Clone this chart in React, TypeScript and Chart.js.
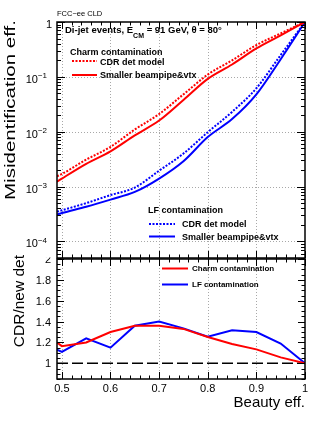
import React, { useEffect, useRef } from 'react';
import { Chart, registerables } from 'chart.js';

Chart.register(...registerables);

// ---------------- data ----------------
const effX = [0.49, 0.5, 0.55, 0.6, 0.65, 0.7, 0.75, 0.8, 0.85, 0.9, 0.95, 1.0];
const charmCDR = [1.55e-3, 1.7e-3, 3.1e-3, 5.3e-3, 1.1e-2, 2.1e-2, 4.8e-2, 0.11, 0.2, 0.38, 0.62, 1.0];
const charmNew = [1.23e-3, 1.4e-3, 2.6e-3, 4.4e-3, 8.6e-3, 1.6e-2, 3.8e-2, 0.092, 0.168, 0.33, 0.57, 1.0];
const lfCDR = [3.5e-4, 3.7e-4, 5.0e-4, 7.0e-4, 9.6e-4, 1.95e-3, 4.0e-3, 9.8e-3, 2.3e-2, 6.2e-2, 0.25, 1.0];
const lfNew = [3.1e-4, 3.3e-4, 4.3e-4, 5.8e-4, 8.0e-4, 1.4e-3, 2.9e-3, 8.0e-3, 1.7e-2, 4.8e-2, 0.21, 1.0];

const ratioX = [0.49, 0.5, 0.55, 0.6, 0.65, 0.7, 0.75, 0.8, 0.85, 0.9, 0.95, 1.0];
const charmRatio = [1.2, 1.165, 1.2, 1.3, 1.36, 1.36, 1.33, 1.252, 1.186, 1.134, 1.057, 1.0];
const lfRatio = [1.13, 1.11, 1.24, 1.15, 1.36, 1.4, 1.335, 1.255, 1.316, 1.3, 1.19, 1.0];
const unityX = [0.49, 1.0];
const unityY = [1, 1];

const xMajorTicks = [0.5, 0.6, 0.7, 0.8, 0.9, 1.0];
const xTickLabels = ['0.5', '0.6', '0.7', '0.8', '0.9', '1'];
const topDecades = [1, 1e-1, 1e-2, 1e-3, 1e-4];
const topDecadeExp = [0, -1, -2, -3, -4];
const ratioMajorTicks = [1, 1.2, 1.4, 1.6, 1.8, 2];
const ratioTickLabels = ['1', '1.2', '1.4', '1.6', '1.8', '2'];

const X_MIN = 0.49;
const X_MAX = 1.0;
const TOP_Y_MIN = 5e-5;
const TOP_Y_MAX = 1;
const BOT_Y_MIN = 0.85;
const BOT_Y_MAX = 2;

// ---------------- style ----------------
const FONT = '"Liberation Sans", Arial, Helvetica, sans-serif';
const RED = '#ff0000';
const BLUE = '#0000ff';
const DOT = [2, 1.5];
const GRID = '#a8a8a8';
const BOT_OFFSET = 250;

const f = (size: number, bold = false) => `${bold ? 'bold ' : ''}${size}px ${FONT}`;
const pts = (xs: number[], ys: number[]) => xs.map((x, i) => ({ x, y: ys[i] }));

function txt(ctx: CanvasRenderingContext2D, s: string, x: number, y: number, font: string, align: CanvasTextAlign = 'left') {
  ctx.font = font;
  ctx.textAlign = align;
  ctx.textBaseline = 'alphabetic';
  ctx.fillStyle = '#000';
  ctx.fillText(s, x, y);
}

function legendLine(ctx: CanvasRenderingContext2D, x1: number, x2: number, y: number, color: string, dash: number[]) {
  ctx.save();
  ctx.strokeStyle = color;
  ctx.lineWidth = 2;
  ctx.setLineDash(dash);
  ctx.beginPath();
  ctx.moveTo(x1, y);
  ctx.lineTo(x2, y);
  ctx.stroke();
  ctx.restore();
}

function drawGrid(chart: any, xs: number[], ys: number[]) {
  const ctx = chart.ctx as CanvasRenderingContext2D;
  const { left, right, top, bottom } = chart.chartArea;
  ctx.save();
  ctx.strokeStyle = GRID;
  ctx.lineWidth = 1;
  ctx.setLineDash([1, 2]);
  ctx.beginPath();
  xs.forEach((v) => {
    const px = Math.round(chart.scales.x.getPixelForValue(v)) + 0.5;
    ctx.moveTo(px, top);
    ctx.lineTo(px, bottom);
  });
  ys.forEach((v) => {
    const py = Math.round(chart.scales.y.getPixelForValue(v)) + 0.5;
    ctx.moveTo(left, py);
    ctx.lineTo(right, py);
  });
  ctx.stroke();
  ctx.restore();
}

function drawFrameTicks(chart: any, yTickVals: { v: number; major: boolean }[], xMaj: number, xMin: number, yMaj: number, yMin: number) {
  const ctx = chart.ctx as CanvasRenderingContext2D;
  const { left, right, top, bottom } = chart.chartArea;
  ctx.save();
  ctx.strokeStyle = '#000';
  ctx.lineWidth = 1;
  ctx.setLineDash([]);
  ctx.beginPath();
  for (let k = Math.ceil(X_MIN * 50); k <= Math.floor(X_MAX * 50); k++) {
    const v = k / 50;
    const len = k % 5 === 0 ? xMaj : xMin;
    const px = Math.round(chart.scales.x.getPixelForValue(v)) + 0.5;
    ctx.moveTo(px, bottom);
    ctx.lineTo(px, bottom - len);
    ctx.moveTo(px, top);
    ctx.lineTo(px, top + len);
  }
  yTickVals.forEach(({ v, major }) => {
    const len = major ? yMaj : yMin;
    const py = Math.round(chart.scales.y.getPixelForValue(v)) + 0.5;
    ctx.moveTo(left, py);
    ctx.lineTo(left + len, py);
    ctx.moveTo(right, py);
    ctx.lineTo(right - len, py);
  });
  ctx.stroke();
  ctx.lineWidth = 1.5;
  ctx.strokeRect(left, top, right - left, bottom - top);
  ctx.restore();
}

const topPlugin = {
  id: 'topDecor',
  beforeDatasetsDraw(chart: any) {
    drawGrid(chart, xMajorTicks.filter((v) => v < X_MAX), topDecades.filter((v) => v < TOP_Y_MAX));
  },
  afterDatasetsDraw(chart: any) {
    const ctx = chart.ctx as CanvasRenderingContext2D;
    const yt: { v: number; major: boolean }[] = [];
    for (let d = -5; d <= 0; d++) {
      for (let m = 1; m <= 9; m++) {
        const v = m * Math.pow(10, d);
        if (v >= TOP_Y_MIN * 0.999 && v <= TOP_Y_MAX * 1.001) yt.push({ v, major: m === 1 });
      }
    }
    drawFrameTicks(chart, yt, 7, 3.5, 8, 4);

    topDecades.forEach((v, i) => {
      const y = chart.scales.y.getPixelForValue(v);
      const e = topDecadeExp[i];
      if (e === 0) {
        txt(ctx, '1', 46, y + 5.5, f(11));
      } else {
        ctx.font = f(8);
        const sup = '\u2212' + String(-e);
        const sw = ctx.measureText(sup).width;
        txt(ctx, '10', 47 - sw, y + 6, f(11), 'right');
        txt(ctx, sup, 47 - sw, y + 1.5, f(8), 'left');
      }
    });

    ctx.save();
    ctx.translate(15, 20);
    ctx.rotate(-Math.PI / 2);
    ctx.font = f(14);
    const title = 'Misidentification eff.';
    const w = ctx.measureText(title).width;
    ctx.scale(180 / w, 1);
    ctx.textAlign = 'right';
    ctx.textBaseline = 'alphabetic';
    ctx.fillStyle = '#000';
    ctx.fillText(title, 0, 0);
    ctx.restore();

    txt(ctx, 'FCC\u2212ee CLD', 57, 16, f(7.5));

    let x = 65;
    txt(ctx, 'Di-jet events, E', x, 33.3, f(9.5, true));
    ctx.font = f(9.5, true);
    x += ctx.measureText('Di-jet events, E').width;
    txt(ctx, 'CM', x, 37.5, f(7, true));
    ctx.font = f(7, true);
    x += ctx.measureText('CM').width;
    txt(ctx, ' = 91 GeV, \u03b8 = 80\u00b0', x, 33.3, f(9.5, true));

    txt(ctx, 'Charm contamination', 70, 54.5, f(9, true));
    legendLine(ctx, 72, 97, 61, RED, DOT);
    txt(ctx, 'CDR det model', 100, 64.5, f(9, true));
    legendLine(ctx, 72, 97, 75, RED, []);
    txt(ctx, 'Smaller beampipe&vtx', 100, 78.3, f(9, true));

    txt(ctx, 'LF contamination', 148, 213.3, f(9, true));
    legendLine(ctx, 149, 175, 224, BLUE, DOT);
    txt(ctx, 'CDR det model', 182, 226.5, f(9, true));
    legendLine(ctx, 149, 175, 236.5, BLUE, []);
    txt(ctx, 'Smaller beampipe&vtx', 182, 239.8, f(9, true));
  },
};

const botPlugin = {
  id: 'botDecor',
  beforeDatasetsDraw(chart: any) {
    drawGrid(chart, xMajorTicks.filter((v) => v < X_MAX), []);
  },
  afterDatasetsDraw(chart: any) {
    const ctx = chart.ctx as CanvasRenderingContext2D;
    const yt: { v: number; major: boolean }[] = [];
    for (let k = Math.ceil(BOT_Y_MIN * 20); k <= Math.floor(BOT_Y_MAX * 20); k++) {
      yt.push({ v: k / 20, major: k % 4 === 0 });
    }
    drawFrameTicks(chart, yt, 7, 3.5, 7, 3.5);

    const { top, bottom } = chart.chartArea;
    ctx.save();
    ctx.beginPath();
    ctx.rect(0, top - 1.5, 60, 400);
    ctx.clip();
    ratioMajorTicks.forEach((v, i) => {
      const y = chart.scales.y.getPixelForValue(v);
      txt(ctx, ratioTickLabels[i], 51, y + 4, f(11), 'right');
    });
    ctx.restore();

    xMajorTicks.forEach((v, i) => {
      const x = chart.scales.x.getPixelForValue(v);
      txt(ctx, xTickLabels[i], x, bottom + 13, f(11), 'center');
    });

    ctx.save();
    ctx.translate(0, -BOT_OFFSET);
    txt(ctx, 'Beauty eff.', 305, 407, f(15), 'right');

    ctx.save();
    ctx.translate(24, 255);
    ctx.rotate(-Math.PI / 2);
    ctx.font = f(15.5);
    ctx.textAlign = 'right';
    ctx.textBaseline = 'alphabetic';
    ctx.fillStyle = '#000';
    ctx.fillText('CDR/new det', 0, 0);
    ctx.restore();

    legendLine(ctx, 162, 188, 268.5, RED, []);
    txt(ctx, 'Charm contamination', 192, 271.3, f(8, true));
    legendLine(ctx, 162, 188, 284.5, BLUE, []);
    txt(ctx, 'LF contamination', 192, 287.3, f(8, true));
    ctx.restore();
  },
};

const lineDs = (data: any, color: string, dash: number[], smooth: boolean) => ({
  data,
  borderColor: color,
  backgroundColor: color,
  borderWidth: 2,
  borderDash: dash,
  pointRadius: 0,
  fill: false,
  tension: 0,
  cubicInterpolationMode: smooth ? 'monotone' : 'default',
});

export default function App() {
  const topRef = useRef<HTMLCanvasElement>(null);
  const botRef = useRef<HTMLCanvasElement>(null);

  useEffect(() => {
    const topChart = new Chart(topRef.current as HTMLCanvasElement, {
      type: 'line',
      data: {
        datasets: [
          lineDs(pts(effX, charmCDR), RED, DOT, true),
          lineDs(pts(effX, charmNew), RED, [], true),
          lineDs(pts(effX, lfCDR), BLUE, DOT, true),
          lineDs(pts(effX, lfNew), BLUE, [], true),
        ] as any,
      },
      options: {
        responsive: false,
        animation: false,
        devicePixelRatio: 1,
        events: [],
        layout: { padding: { left: 57, right: 27, top: 22, bottom: 1 } },
        plugins: { legend: { display: false }, tooltip: { enabled: false } },
        scales: {
          x: { type: 'linear', min: X_MIN, max: X_MAX, display: false },
          y: { type: 'logarithmic', min: TOP_Y_MIN, max: TOP_Y_MAX, display: false },
        },
      } as any,
      plugins: [topPlugin],
    });

    const botChart = new Chart(botRef.current as HTMLCanvasElement, {
      type: 'line',
      data: {
        datasets: [
          lineDs(pts(ratioX, charmRatio), RED, [], false),
          lineDs(pts(ratioX, lfRatio), BLUE, [], false),
          { ...lineDs(pts(unityX, unityY), '#000000', [11, 4], false), borderWidth: 1.5 },
        ] as any,
      },
      options: {
        responsive: false,
        animation: false,
        devicePixelRatio: 1,
        events: [],
        layout: { padding: { left: 57, right: 27, top: 9, bottom: 52 } },
        plugins: { legend: { display: false }, tooltip: { enabled: false } },
        scales: {
          x: { type: 'linear', min: X_MIN, max: X_MAX, display: false },
          y: { type: 'linear', min: BOT_Y_MIN, max: BOT_Y_MAX, display: false },
        },
      } as any,
      plugins: [botPlugin],
    });

    return () => {
      topChart.destroy();
      botChart.destroy();
    };
  }, []);

  return (
    <div style={{ position: 'fixed', left: 0, top: 0, width: 332, height: 431, background: '#ffffff' }}>
      <canvas
        ref={botRef}
        width={332}
        height={181}
        style={{ position: 'absolute', left: 0, top: BOT_OFFSET, width: 332, height: 181 }}
      />
      <canvas
        ref={topRef}
        width={332}
        height={259}
        style={{ position: 'absolute', left: 0, top: 0, width: 332, height: 259 }}
      />
    </div>
  );
}
